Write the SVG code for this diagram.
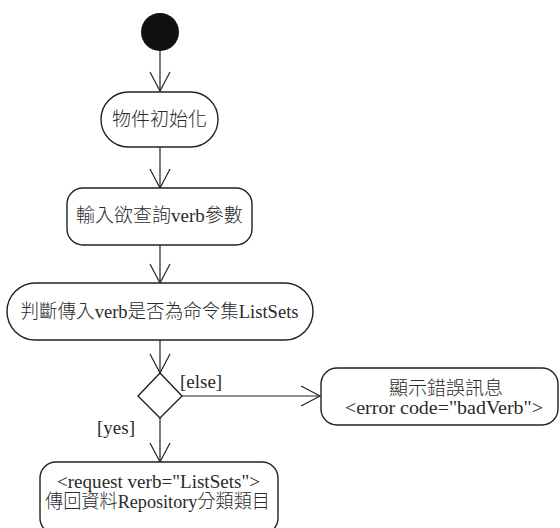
<svg xmlns="http://www.w3.org/2000/svg" width="560" height="528" viewBox="0 0 560 528">
<style>
.n{fill:#fff;stroke:#222;stroke-width:1.4}
.t{font-family:"Liberation Serif","Noto Sans CJK TC",serif;font-size:19px;font-weight:300;fill:#2a2a2a;text-anchor:middle}
.l{font-family:"Liberation Serif","Noto Sans CJK TC",serif;font-size:19px;font-weight:300;fill:#2a2a2a}
.c{stroke:#222;stroke-width:1.2;fill:none}
</style>
<defs>
<marker id="ah" markerUnits="userSpaceOnUse" viewBox="-21 -12 23 24" refX="0" refY="0" markerWidth="23" markerHeight="24" orient="auto">
<path d="M-19,-10 L0,0 L-19,10" fill="none" stroke="#222" stroke-width="1.2"/>
</marker>
</defs>
<rect width="560" height="528" fill="#fff"/>
<g id="connectors">
<line class="c" x1="160" y1="51" x2="160" y2="91" marker-end="url(#ah)"/>
<line class="c" x1="160" y1="147" x2="160" y2="188" marker-end="url(#ah)"/>
<line class="c" x1="160" y1="245" x2="160" y2="283" marker-end="url(#ah)"/>
<line class="c" x1="160" y1="340" x2="160" y2="373" marker-end="url(#ah)"/>
<line class="c" x1="182" y1="396" x2="320" y2="396" marker-end="url(#ah)"/>
<line class="c" x1="160" y1="418" x2="160" y2="462" marker-end="url(#ah)"/>
<text class="l" x="180" y="388">[else]</text>
<text class="l" x="97" y="434">[yes]</text>
</g>
<g id="start"><circle cx="160" cy="32" r="19" fill="#111"/></g>
<g id="init">
<rect class="n" x="101" y="92" width="117" height="55" rx="27.5"/>
<text class="t" x="159.5" y="126">物件初始化</text>
</g>
<g id="input">
<rect class="n" x="67" y="188" width="185" height="57" rx="16" stroke-width="1.8"/>
<text class="t" x="159.5" y="222">輸入欲查詢verb參數</text>
</g>
<g id="check">
<rect class="n" x="7" y="283" width="306" height="57" rx="28.5"/>
<text class="t" x="159.5" y="318" textLength="278" lengthAdjust="spacingAndGlyphs">判斷傳入verb是否為命令集ListSets</text>
</g>
<g id="decision">
<polygon class="n" points="160,373 182,396 160,418 138,396" stroke-width="1.8"/>
</g>
<g id="error">
<rect class="n" x="321" y="368" width="237" height="57" rx="16" stroke-width="1.6"/>
<text class="t" x="446" y="395">顯示錯誤訊息</text>
<text class="t" x="444" y="414" textLength="198" lengthAdjust="spacingAndGlyphs">&lt;error code="badVerb"&gt;</text>
</g>
<g id="listsets">
<rect class="n" x="40" y="462" width="238" height="72" rx="16" stroke-width="1.6"/>
<text class="t" x="158.5" y="488" textLength="203" lengthAdjust="spacingAndGlyphs">&lt;request verb="ListSets"&gt;</text>
<text class="t" x="157.5" y="508" textLength="225" lengthAdjust="spacingAndGlyphs">傳回資料Repository分類類目</text>
</g>
</svg>
